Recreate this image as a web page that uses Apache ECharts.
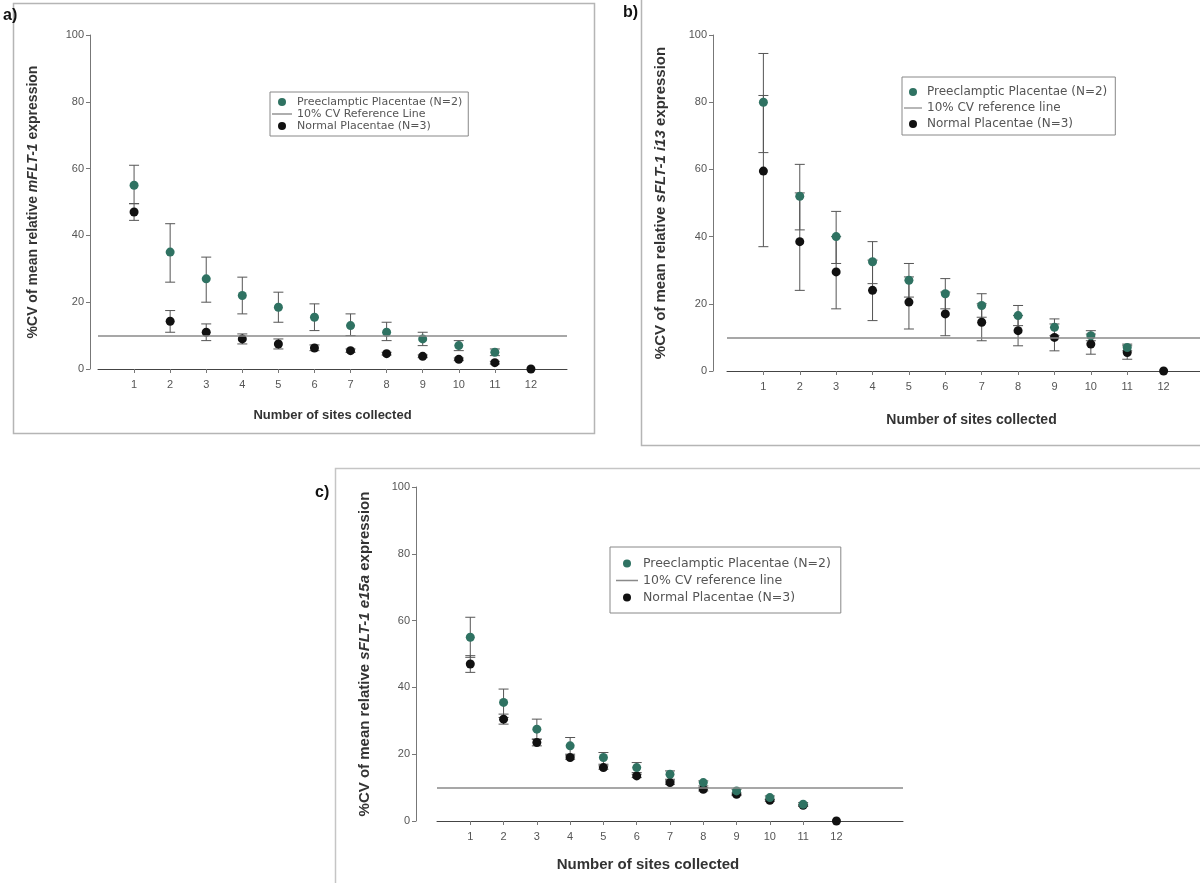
<!DOCTYPE html>
<html>
<head>
<meta charset="utf-8">
<script src="https://cdn.jsdelivr.net/npm/echarts@6/dist/echarts.min.js"></script>
<style>html,body{margin:0;padding:0;background:#fff;}#c{width:1200px;height:883px;}</style>
</head>
<body>
<div id="c"></div>
<script>
// ---------- data ----------
const sites = ['1','2','3','4','5','6','7','8','9','10','11','12'];
const refLevel = 10;

// Panel a) mFLT-1
const aPreMean  = [55, 35, 27, 22, 18.5, 15.5, 13, 11, 9, 7, 5, null];
const aPreLow   = [49.5, 26, 20, 16.5, 14, 11.5, 10, 8.5, 7, 5.5, 4, null];
const aPreHigh  = [61, 43.5, 33.5, 27.5, 23, 19.5, 16.5, 14, 11, 8.5, 6, null];
const aNorMean  = [47, 14.3, 11, 9, 7.5, 6.3, 5.5, 4.6, 3.8, 2.9, 1.9, 0];
const aNorLow   = [44.5, 11, 8.5, 7.5, 6, 5.5, 5, 4.2, 3.4, 2.5, 1.5, null];
const aNorHigh  = [49.5, 17.5, 13.5, 10.5, 9, 7.2, 6, 5, 4.2, 3.3, 2.3, null];

// Panel b) sFLT-1 i13
const bPreMean  = [80, 52, 40, 32.5, 27, 23, 19.5, 16.5, 13, 10.5, 7, null];
const bPreLow   = [65, 42, 32, 26, 22, 18.5, 16, 13.5, 10.5, 9, 6, null];
const bPreHigh  = [94.5, 61.5, 47.5, 38.5, 32, 27.5, 23, 19.5, 15.5, 12, 8, null];
const bNorMean  = [59.5, 38.5, 29.5, 24, 20.5, 17, 14.5, 12, 10, 8, 5.5, 0];
const bNorLow   = [37, 24, 18.5, 15, 12.5, 10.5, 9, 7.5, 6, 5, 3.5, null];
const bNorHigh  = [82, 53, 40, 33, 28, 23.5, 20, 16.5, 14, 11, 7.5, null];

// Panel c) sFLT-1 e15a
const cPreMean  = [55, 35.5, 27.5, 22.5, 19, 16, 14, 11.5, 9, 7, 5, null];
const cPreLow   = [49, 31, 24.5, 20, 17, 14.5, 12.5, 10.5, 8, 6.5, 4.5, null];
const cPreHigh  = [61, 39.5, 30.5, 25, 20.5, 17.5, 15, 12, 9.5, 7.5, 5.5, null];
const cNorMean  = [47, 30.5, 23.5, 19, 16, 13.5, 11.5, 9.5, 8, 6.2, 4.7, 0];
const cNorLow   = [44.5, 29, 22.5, 18.5, 15.5, 13, 11, 9, 7.6, 5.9, 4.4, null];
const cNorHigh  = [49.5, 32, 24.5, 19.5, 16.5, 14, 12, 10, 8.4, 6.5, 5, null];

const yTicks = [0, 20, 40, 60, 80, 100];

const nPre = 'Preeclamptic Placentae (N=2)';
const nNor = 'Normal Placentae (N=3)';
const nRefA = '10% CV Reference Line';
const nRefB = '10% CV reference line';

// ---------- styles ----------
const GREEN = '#2f7262';
const BLACK = '#111111';
const ERR = '#555555';
const REFC = '#8a8a8a';
const FONT = 'Liberation Sans, Arial, sans-serif';
const LFONT = 'DejaVu Sans, sans-serif';

function pts(mean) {
  const out = [];
  mean.forEach((v, i) => { if (v !== null) out.push([i + 1, v]); });
  return out;
}
function errs(low, high) {
  const out = [];
  low.forEach((v, i) => { if (v !== null && high[i] !== null) out.push([i + 1, v, high[i]]); });
  return out;
}
function errRender(params, api) {
  const x = api.value(0), lo = api.value(1), hi = api.value(2);
  const p1 = api.coord([x, lo]), p2 = api.coord([x, hi]);
  const w = 5;
  const st = { stroke: ERR, lineWidth: 1 };
  return {
    type: 'group',
    children: [
      { type: 'line', shape: { x1: p1[0], y1: p1[1], x2: p2[0], y2: p2[1] }, style: st },
      { type: 'line', shape: { x1: p1[0] - w, y1: p1[1], x2: p1[0] + w, y2: p1[1] }, style: st },
      { type: 'line', shape: { x1: p2[0] - w, y1: p2[1], x2: p2[0] + w, y2: p2[1] }, style: st }
    ]
  };
}

const panels = [
  { grid: { left: 98, top: 35, width: 469, height: 334 }, yOff: 8, cats: 14, gene: 'mFLT-1',
    yGap: 50, yFont: 14, xGap: 40, xFont: 13, xPad: [0, 0, 0, 0], refName: nRefA,
    pre: [aPreMean, aPreLow, aPreHigh], nor: [aNorMean, aNorLow, aNorHigh],
    legend: { left: 270, top: 92, itemGap: 0, itemWidth: 20, padding: [4, 6, 4, 2] }, lFont: 11, lLine: 12 },
  { grid: { left: 727, top: 35, width: 473, height: 336 }, yOff: 14, cats: 14, gene: 'sFLT-1 i13',
    yGap: 45, yFont: 15, xGap: 42, xFont: 14, xPad: [0, 0, 0, 16], refName: nRefB,
    pre: [bPreMean, bPreLow, bPreHigh], nor: [bNorMean, bNorLow, bNorHigh],
    legend: { left: 902, top: 77, itemGap: 2, itemWidth: 18, padding: [8, 8, 4, 2] }, lFont: 12, lLine: 14 },
  { grid: { left: 437, top: 487, width: 466, height: 334 }, yOff: 21, cats: 15, gene: 'sFLT-1 e15a',
    yGap: 44, yFont: 15, xGap: 36, xFont: 15, xPad: [0, 44, 0, 0], refName: nRefB,
    pre: [cPreMean, cPreLow, cPreHigh], nor: [cNorMean, cNorLow, cNorHigh],
    legend: { left: 610, top: 547, itemGap: 2, itemWidth: 22, padding: [9, 10, 8, 6] }, lFont: 12.5, lLine: 15 }
];

const grids = [], xAxes = [], yAxes = [], series = [], legends = [];
panels.forEach((p, k) => {
  grids.push(p.grid);
  const cats = [''].concat(sites);
  while (cats.length < p.cats) cats.push(' ');
  xAxes.push({
    type: 'category', gridIndex: k, data: cats, boundaryGap: false,
    name: 'Number of sites collected', nameLocation: 'middle', nameGap: p.xGap,
    nameTextStyle: { fontFamily: FONT, fontWeight: 'bold', fontSize: p.xFont, color: '#333', padding: p.xPad },
    axisLine: { lineStyle: { color: '#444', width: 1 } },
    axisTick: { show: true, length: 4, interval: (i, v) => v !== '' && v !== ' ', lineStyle: { color: '#777' } },
    axisLabel: { interval: (i, v) => v !== '' && v !== ' ', fontFamily: FONT, fontSize: 11, color: '#555', margin: 10 },
    splitLine: { show: false }
  });
  yAxes.push({
    type: 'value', gridIndex: k, min: yTicks[0], max: yTicks[yTicks.length - 1], interval: yTicks[1] - yTicks[0],
    offset: p.yOff,
    name: '%CV of mean relative {i|' + p.gene + '} expression', nameLocation: 'middle', nameGap: p.yGap, nameRotate: 90,
    nameTextStyle: { fontFamily: FONT, fontWeight: 'bold', fontSize: p.yFont, color: '#333',
      rich: { i: { fontFamily: FONT, fontWeight: 'bold', fontStyle: 'italic', fontSize: p.yFont, color: '#333' } } },
    axisLine: { show: true, lineStyle: { color: '#777' } },
    axisTick: { show: true, length: 4, lineStyle: { color: '#777' } },
    axisLabel: { fontFamily: FONT, fontSize: 11, color: '#555', margin: 6 },
    splitLine: { show: false }
  });
  series.push({ type: 'custom', xAxisIndex: k, yAxisIndex: k, renderItem: errRender, data: errs(p.pre[1], p.pre[2]), z: 2, silent: true });
  series.push({ type: 'custom', xAxisIndex: k, yAxisIndex: k, renderItem: errRender, data: errs(p.nor[1], p.nor[2]), z: 2, silent: true });
  series.push({ type: 'line', name: p.refName, xAxisIndex: k, yAxisIndex: k, data: [], symbol: 'none', showSymbol: false,
    itemStyle: { color: REFC }, lineStyle: { color: REFC, width: 1.5 },
    markLine: { symbol: 'none', silent: true, label: { show: false }, lineStyle: { color: REFC, type: 'solid', width: 1.5 },
      data: [{ yAxis: refLevel }] }, z: 1 });
  series.push({ type: 'scatter', name: nNor, xAxisIndex: k, yAxisIndex: k, data: pts(p.nor[0]), symbol: 'circle', symbolSize: 9,
    itemStyle: { color: BLACK, opacity: 1 }, z: 3 });
  series.push({ type: 'scatter', name: nPre, xAxisIndex: k, yAxisIndex: k, data: pts(p.pre[0]), symbol: 'circle', symbolSize: 9,
    itemStyle: { color: GREEN, opacity: 1 }, z: 4 });
  legends.push(Object.assign({
    orient: 'vertical', selectedMode: false,
    data: [
      { name: nPre, icon: 'circle' },
      { name: p.refName, icon: 'path://M0,0H16V1.1H0Z', itemStyle: { color: REFC } },
      { name: nNor, icon: 'circle' }
    ],
    itemHeight: 8, symbolKeepAspect: true,
    borderColor: '#888', borderWidth: 1, backgroundColor: '#fff',
    textStyle: { fontFamily: LFONT, fontSize: p.lFont, color: '#555', lineHeight: p.lLine }
  }, p.legend));
});

const chart = echarts.init(document.getElementById('c'), null, { renderer: 'canvas' });
chart.setOption({
  animation: false,
  backgroundColor: '#ffffff',
  grid: grids, xAxis: xAxes, yAxis: yAxes, series: series, legend: legends,
  graphic: [
    { type: 'rect', shape: { x: 13.5, y: 3.5, width: 581, height: 430 }, style: { fill: 'none', stroke: '#b5b5b5', lineWidth: 1.5 }, z: -1 },
    { type: 'polyline', shape: { points: [[641.5, 0], [641.5, 445.5], [1200, 445.5]] }, style: { fill: 'none', stroke: '#b5b5b5', lineWidth: 1.5 }, z: -1 },
    { type: 'polyline', shape: { points: [[335.5, 883], [335.5, 468.5], [1200, 468.5]] }, style: { fill: 'none', stroke: '#c5c5c5', lineWidth: 1.5 }, z: -1 },
    { type: 'text', left: 3, top: 8, style: { text: 'a)', font: 'bold 16px Liberation Sans, Arial, sans-serif', fill: '#111' } },
    { type: 'text', left: 623, top: 5, style: { text: 'b)', font: 'bold 16px Liberation Sans, Arial, sans-serif', fill: '#111' } },
    { type: 'text', left: 315, top: 485, style: { text: 'c)', font: 'bold 16px Liberation Sans, Arial, sans-serif', fill: '#111' } }
  ]
});
</script>
</body>
</html>
